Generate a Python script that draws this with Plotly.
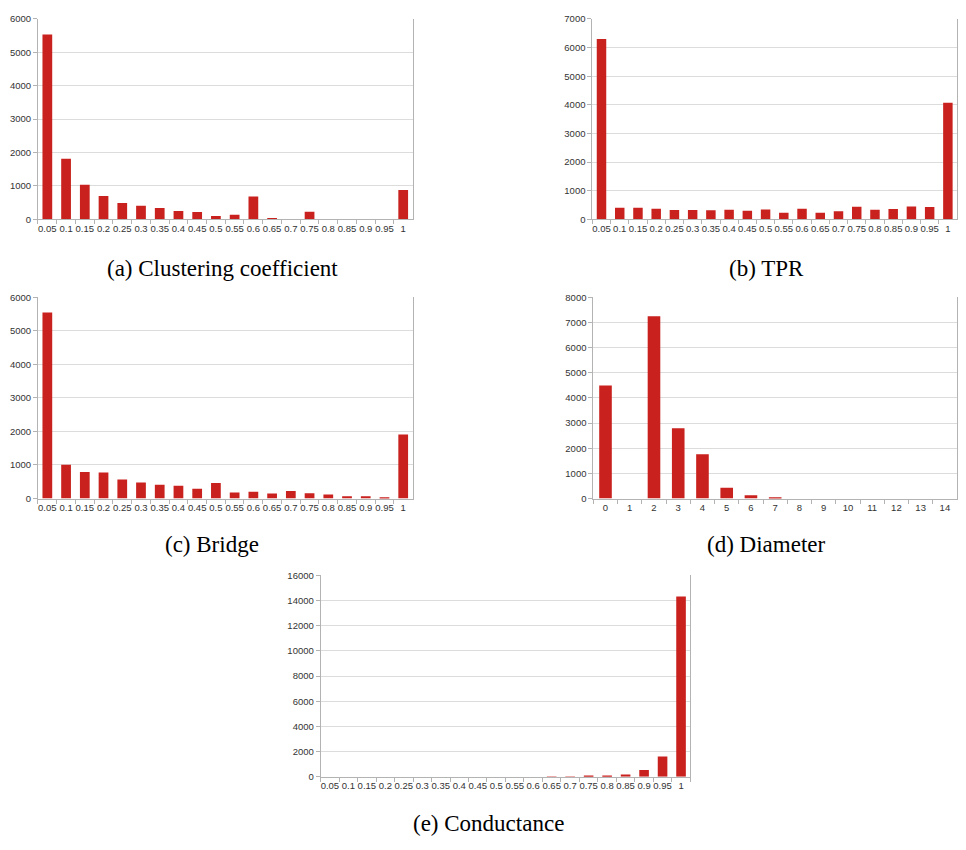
import plotly.graph_objects as go

# ---------------- data ----------------
bins = ["0.05", "0.1", "0.15", "0.2", "0.25", "0.3", "0.35", "0.4", "0.45", "0.5",
        "0.55", "0.6", "0.65", "0.7", "0.75", "0.8", "0.85", "0.9", "0.95", "1"]

clustering = [5530, 1810, 1036, 700, 484, 405, 336, 247, 217, 99,
              138, 681, 10, 0, 227, 0, 0, 0, 0, 878]

tpr = [6300, 403, 400, 368, 322, 322, 311, 334, 300, 345,
       230, 368, 230, 276, 437, 334, 357, 449, 426, 4075]

bridge = [5548, 1008, 793, 773, 568, 479, 411, 382, 294, 460,
          176, 205, 147, 225, 157, 117, 68, 68, 39, 1908]

diam_bins = ["0", "1", "2", "3", "4", "5", "6", "7", "8", "9", "10", "11", "12", "13", "14"]
diameter = [4490, 0, 7245, 2794, 1762, 431, 130, 30, 0, 0, 0, 0, 0, 0, 0]

conductance = [0, 0, 0, 0, 0, 0, 0, 0, 0, 0,
               0, 0, 5, 10, 40, 80, 180, 550, 1623, 14323]

captions = ["(a) Clustering coefficient", "(b) TPR", "(c) Bridge", "(d) Diameter", "(e) Conductance"]
y_max = [6000, 7000, 6000, 8000, 16000]
y_step = [1000, 1000, 1000, 1000, 2000]

# ---------------- layout ----------------
OFF = 8                      # page body margin
WIN_W, WIN_H = 966, 850
W, H = WIN_W - 2 * OFF, WIN_H - 2 * OFF  # keep page within the window (no scrollbars)
BAR = "#c9211e"
AX = "#b3b3b3"
GRID = "#dcdcdc"
TICKFONT = dict(family="Liberation Sans, Arial, sans-serif", size=9.5, color="#333333")
CAPFONT = dict(family="Liberation Serif, Times New Roman, serif", size=23, color="#000000")

# pixel boxes in window coordinates: (x0, x1, ytop, ybottom)
boxes = [(38, 413, 13, 216), (593, 958, 13, 216),
         (38, 413, 295, 499), (594, 958, 295, 499),
         (321, 691, 577, 781)]
cap_pos = [(223, 266), (767, 266), (212, 546), (767, 546), (489, 828)]

series = [(bins, clustering), (bins, tpr), (bins, bridge), (diam_bins, diameter), (bins, conductance)]


def px_x(x):
    return min(max((x - OFF) / W, 0.0), 1.0)


def px_y(y):
    return min(max(1 - (y - OFF) / H, 0.0), 1.0)


fig = go.Figure()
layout = dict(width=W, height=H, margin=dict(l=0, r=0, t=0, b=0),
              paper_bgcolor="white", plot_bgcolor="white", showlegend=False,
              bargap=0.48)

for i, ((cats, vals), (x0, x1, yt, yb)) in enumerate(zip(series, boxes)):
    n = "" if i == 0 else str(i + 1)
    fig.add_trace(go.Bar(x=cats, y=vals, marker=dict(color=BAR, line=dict(width=0)),
                         xaxis="x" + n, yaxis="y" + n))
    layout["xaxis" + n] = dict(
        domain=[px_x(x0), px_x(x1)], anchor="y" + n, type="category",
        categoryorder="array", categoryarray=cats,
        showline=True, linecolor=AX, linewidth=1, mirror=False,
        ticks="outside", tickson="boundaries", ticklen=4, tickcolor=AX,
        tickangle=0, tickfont=TICKFONT, showgrid=False, fixedrange=True)
    layout["yaxis" + n] = dict(
        domain=[px_y(yb), px_y(yt)], anchor="x" + n,
        range=[0, y_max[i]], dtick=y_step[i], tick0=0, tickformat="d",
        showline=True, linecolor=AX, linewidth=1, mirror=True,
        ticks="outside", ticklen=4, tickcolor=AX,
        showgrid=True, gridcolor=GRID, gridwidth=1, zeroline=False,
        tickfont=TICKFONT, fixedrange=True)

annotations = []
for cap, (cx, cy) in zip(captions, cap_pos):
    annotations.append(dict(text=cap, x=px_x(cx), y=px_y(cy), xref="paper", yref="paper",
                            xanchor="center", yanchor="middle", showarrow=False, font=CAPFONT))
layout["annotations"] = annotations

fig.update_layout(**layout)
fig.write_html("out.html")
